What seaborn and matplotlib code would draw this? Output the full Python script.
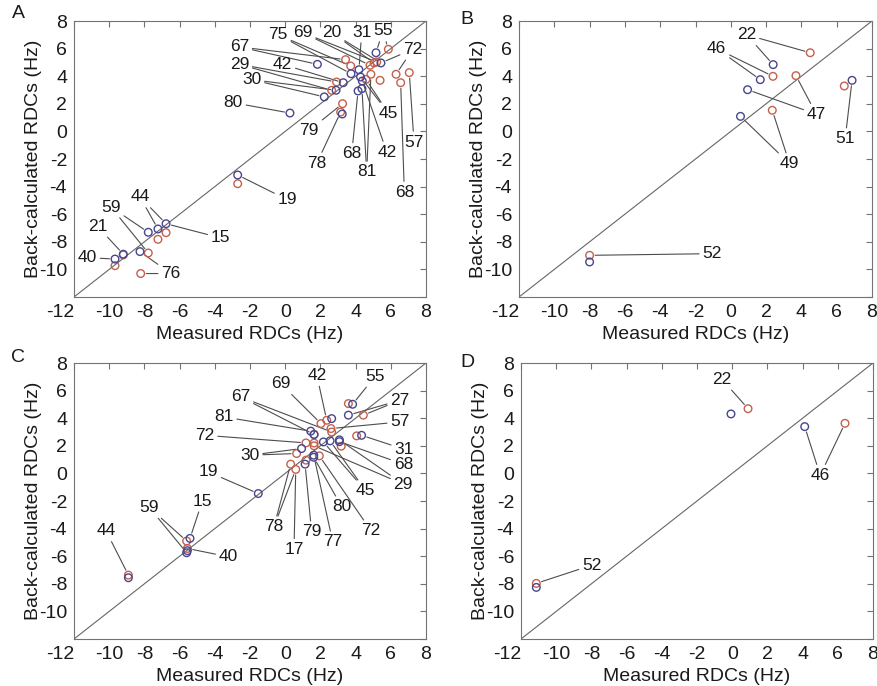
import numpy as np
import pandas as pd
import seaborn as sns
import matplotlib
matplotlib.use("Agg")
import matplotlib.pyplot as plt

sns.set_style("white")
plt.rcParams['font.family'] = ['Liberation Sans', 'DejaVu Sans']

# ---------------- data ----------------
# Panel A
a_blue_x = [1.83, 5.16, 5.44, 4.19, 3.74, 4.28, 4.38, 3.30, 2.89, 2.22, 4.36, 4.14, 3.24, 0.27,
            -2.70, -6.77, -7.23, -7.78, -8.25, -9.20, -9.67]
a_blue_y = [4.86, 5.70, 4.96, 4.47, 4.18, 3.94, 3.65, 3.53, 2.98, 2.50, 3.10, 2.93, 1.26, 1.33,
            -3.16, -6.69, -7.07, -7.31, -8.71, -8.90, -9.25]
a_red_x = [5.86, 3.43, 3.72, 4.82, 5.05, 5.20, 4.87, 5.39, 6.30, 7.05, 6.56, 4.59, 2.92, 2.64,
           3.26, 3.15, -2.70, -6.77, -7.23, -7.78, -9.20, -9.67, -8.21]
a_red_y = [5.95, 5.20, 4.74, 4.79, 4.96, 5.03, 4.14, 3.70, 4.14, 4.26, 3.53, 3.77, 3.58, 2.98,
           2.01, 1.40, -3.79, -7.34, -7.82, -8.81, -8.95, -9.73, -10.30]
a_labels = [
    ("75", (-0.4, 7.0), [("b", 4), ("r", 2)]),
    ("69", (1.0, 7.15), [("r", 3), ("r", 5)]),
    ("20", (2.65, 7.15), [("r", 4), ("b", 2)]),
    ("31", (4.35, 7.2), [("b", 3)]),
    ("55", (5.55, 7.28), [("b", 1), ("r", 0)]),
    ("72", (7.25, 5.95), [("r", 8), ("b", 2)]),
    ("67", (-2.6, 6.12), [("b", 0), ("r", 1)]),
    ("29", (-2.6, 4.86), [("r", 12), ("r", 13)]),
    ("42", (-0.15, 4.86), [("b", 7)]),
    ("30", (-1.9, 3.75), [("b", 9), ("b", 8)]),
    ("80", (-2.95, 2.08), [("b", 13)]),
    ("79", (1.37, 0.08), [("r", 14)]),
    ("78", (1.8, -2.3), [("r", 15)]),
    ("68", (3.78, -1.6), [("b", 11)]),
    ("81", (4.63, -2.94), [("b", 10), ("r", 6)]),
    ("42", (5.77, -1.5), [("b", 6)]),
    ("45", (5.86, 1.33), [("r", 11), ("b", 5)]),
    ("57", (7.32, -0.77), [("r", 9)]),
    ("68", (6.77, -4.4), [("r", 10)]),
    ("19", (0.12, -4.95), [("b", 14)]),
    ("15", (-3.67, -7.72), [("b", 15)]),
    ("44", (-8.25, -4.75), [("b", 16), ("b", 15)]),
    ("59", (-9.9, -5.48), [("b", 17), ("r", 19)]),
    ("21", (-10.66, -6.88), [("b", 19)]),
    ("40", (-11.24, -9.15), [("b", 20)]),
    ("76", (-6.5, -10.3), [("r", 22), ("b", 18)]),
]

# Panel B
b_blue_x = [2.40, 1.67, 0.95, 0.55, 6.87, -8.0]
b_blue_y = [4.84, 3.75, 3.02, 1.09, 3.70, -9.46]
b_red_x = [4.50, 2.39, 3.69, 2.35, 6.43, -8.0]
b_red_y = [5.70, 3.99, 4.04, 1.53, 3.29, -8.98]
b_labels = [
    ("22", (0.9, 7.0), [("b", 0), ("r", 0)]),
    ("46", (-0.8, 6.0), [("b", 1), ("r", 1)]),
    ("47", (4.85, 1.24), [("r", 2), ("b", 2)]),
    ("49", (3.33, -2.34), [("b", 3), ("r", 3)]),
    ("51", (6.48, -0.53), [("b", 4)]),
    ("52", (-1.06, -8.86), [("r", 5)]),
]

# Panel C
c_blue_x = [3.83, 3.59, 2.64, 1.45, 1.64, 2.17, 2.55, 3.08, 3.08, 4.34, 0.93, 1.62, 1.62, 1.13,
            -1.53, -5.41, -5.56, -5.60, -8.91]
c_blue_y = [5.01, 4.22, 3.97, 3.06, 2.82, 2.28, 2.36, 2.43, 2.30, 2.76, 1.80, 1.32, 1.17, 0.67,
            -1.46, -4.71, -5.60, -5.75, -7.56]
c_red_x = [3.59, 4.44, 2.03, 2.36, 2.60, 2.64, 1.64, 3.18, 4.06, 1.64, 1.64, 1.18, 0.65, 1.94,
           1.18, 0.31, 0.60, -5.60, -5.56, -8.91]
c_red_y = [5.06, 4.22, 3.61, 3.85, 3.25, 3.00, 2.82, 1.97, 2.72, 2.20, 2.00, 2.21, 1.44, 1.27,
           0.96, 0.67, 0.29, -4.90, -5.44, -7.37]
c_labels = [
    ("42", (1.8, 7.1), [("r", 3)]),
    ("55", (5.1, 7.03), [("b", 0)]),
    ("69", (-0.25, 6.5), [("r", 2)]),
    ("27", (6.52, 5.3), [("b", 1), ("r", 1)]),
    ("67", (-2.53, 5.54), [("r", 5), ("r", 6)]),
    ("81", (-3.48, 4.09), [("b", 3)]),
    ("57", (6.52, 3.73), [("r", 4)]),
    ("72", (-4.56, 2.76), [("r", 11)]),
    ("31", (6.75, 1.75), [("b", 9)]),
    ("30", (-2.0, 1.32), [("b", 10), ("r", 12)]),
    ("68", (6.71, 0.67), [("b", 8)]),
    ("29", (6.71, -0.78), [("b", 7), ("r", 10)]),
    ("19", (-4.37, 0.11), [("b", 14)]),
    ("45", (4.57, -1.26), [("b", 5), ("b", 6)]),
    ("80", (3.21, -2.42), [("b", 12)]),
    ("72", (4.88, -4.16), [("r", 13)]),
    ("78", (-0.64, -3.87), [("r", 15), ("r", 16)]),
    ("17", (0.5, -5.51), [("r", 16)]),
    ("79", (1.5, -4.23), [("b", 13)]),
    ("77", (2.7, -4.96), [("b", 11)]),
    ("59", (-7.72, -2.47), [("r", 17), ("b", 17)]),
    ("15", (-4.71, -2.01), [("b", 15)]),
    ("40", (-3.23, -6.04), [("r", 18)]),
    ("44", (-10.18, -4.16), [("r", 19)]),
]

# Panel D
d_blue_x = [-0.07, 4.12, -11.13]
d_blue_y = [4.31, 3.39, -8.26]
d_red_x = [0.90, 6.41, -11.13]
d_red_y = [4.69, 3.63, -7.97]
d_labels = [
    ("22", (-0.58, 6.82), [("r", 0)]),
    ("46", (5.0, -0.13), [("b", 1), ("r", 1)]),
    ("52", (-7.98, -6.65), [("r", 2)]),
]

xticks = [-12, -10, -8, -6, -4, -2, 0, 2, 4, 6, 8]
yticks = [-12, -10, -8, -6, -4, -2, 0, 2, 4, 6, 8]
xlabel = "Measured RDCs (Hz)"
ylabel = "Back-calculated RDCs (Hz)"

BLUE = "#46468e"
RED = "#c4604c"

W, H = 878, 686
fig = plt.figure(figsize=(W / 100, H / 100), dpi=100)

panels = [
    ("A", (74, 21, 352, 276), (18, 13), a_blue_x, a_blue_y, a_red_x, a_red_y, a_labels),
    ("B", (519, 21, 353, 276), (467, 20), b_blue_x, b_blue_y, b_red_x, b_red_y, b_labels),
    ("C", (74, 363, 352, 276), (18, 357), c_blue_x, c_blue_y, c_red_x, c_red_y, c_labels),
    ("D", (521, 363, 352, 276), (467, 362), d_blue_x, d_blue_y, d_red_x, d_red_y, d_labels),
]

for letter, (l, t, w, h), (lx, ly), bx, by, rx, ry, labels in panels:
    ax = fig.add_axes([l / W, 1 - (t + h) / H, w / W, h / H])
    ax.set_xlim(-12, 8)
    ax.set_ylim(-12, 8)
    ax.axline((0, 0), slope=1, color="0.4", lw=0.8, zorder=1)

    df = pd.concat([
        pd.DataFrame({"measured": bx, "back": by, "model": "blue"}),
        pd.DataFrame({"measured": rx, "back": ry, "model": "red"}),
    ])
    for name, col in (("red", RED), ("blue", BLUE)):
        sub = df[df["model"] == name]
        sns.scatterplot(data=sub, x="measured", y="back", ax=ax, marker="o", s=30,
                        color=col, facecolor="none", edgecolor=col, linewidth=1.0,
                        zorder=3, legend=False)

    for text, pos, targets in labels:
        for k, (s, i) in enumerate(targets):
            tx, ty = (bx[i], by[i]) if s == "b" else (rx[i], ry[i])
            ax.annotate(text, xy=(tx, ty), xytext=pos, ha="center", va="center",
                        fontsize=12.5, color="0.1" if k == 0 else "none",
                        arrowprops=dict(arrowstyle="-", color="0.3", lw=0.8,
                                        shrinkA=0, shrinkB=4), zorder=2)

    ax.set_xticks(xticks)
    ax.set_yticks(yticks)
    ax.set_xticklabels([str(v) for v in xticks])
    ax.set_yticklabels(["" if v == -12 else str(v) for v in yticks])
    ax.get_xticklabels()[0].set_ha("right")
    ax.tick_params(direction="in", top=True, right=True, length=4, width=0.8,
                   color="0.45", labelsize=14, pad=5, labelcolor="0.1")
    for sp in ax.spines.values():
        sp.set_color("0.45")
        sp.set_linewidth(0.8)
    ax.set_xlabel(xlabel, fontsize=14, color="0.1")
    ax.set_ylabel(ylabel, fontsize=14, color="0.1")
    ax.xaxis.set_label_coords(0.5, -0.105)
    ax.yaxis.set_label_coords(-0.09, 0.5)
    ax.grid(False)
    fig.text(lx / W, 1 - ly / H, letter, fontsize=14, ha="center", va="center", color="0.1")

fig.savefig("out.png", dpi=100)
